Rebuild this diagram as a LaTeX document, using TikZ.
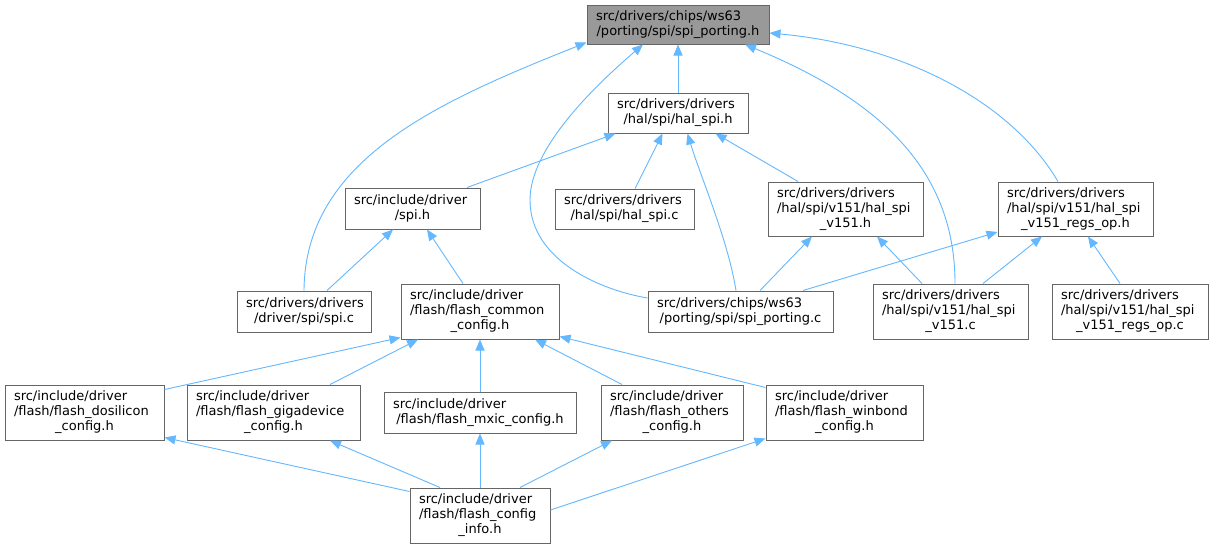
\documentclass[tikz,border=0pt]{standalone}
\usepackage{fontspec}
\setmainfont{DejaVu Sans}
\usetikzlibrary{arrows.meta}
\definecolor{edgec}{HTML}{63B8FF}
\definecolor{bordc}{HTML}{666666}
\definecolor{topc}{HTML}{999999}
\setlength\parindent{0pt}
\newcommand{\lastln}[1]{\makebox[\hsize][c]{#1}}
\begin{document}
\begin{tikzpicture}[x=1pt,y=-1pt,
  box/.style={draw=bordc, line width=1pt, fill=white, inner xsep=9pt, inner ysep=0pt,
    align=left, font=\fontsize{13}{15}\selectfont},
  edge/.style={draw=edgec, line width=0.9pt, {Triangle[length=11pt,width=9pt]}-}]
\fill[white] (0,0) rectangle (1213,549);
\useasboundingbox (0,0) rectangle (1213,549);

% row 0
\node[box, fill=topc, minimum width=182pt, text width=164pt, minimum height=39pt] (top) at (678,24.5)
  {src/drivers/chips/ws63\\\lastln{/porting/spi/spi\_porting.h}};
% row 1
\node[box, minimum width=140pt, text width=122pt, minimum height=40pt] (halspih) at (678,113)
  {src/drivers/drivers\\\lastln{/hal/spi/hal\_spi.h}};
% row 2
\node[box, minimum width=135pt, text width=117pt, minimum height=41pt] (spih) at (412.5,208.5)
  {src/include/driver\\\lastln{/spi.h}};
\node[box, minimum width=139pt, text width=121pt, minimum height=40pt] (halspic) at (624.5,209)
  {src/drivers/drivers\\\lastln{/hal/spi/hal\_spi.c}};
\node[box, minimum width=155pt, text width=137pt, minimum height=54pt] (v151h) at (845.5,209)
  {src/drivers/drivers\\/hal/spi/v151/hal\_spi\\\lastln{\_v151.h}};
\node[box, minimum width=155pt, text width=137pt, minimum height=54pt] (regsoph) at (1075.5,209)
  {src/drivers/drivers\\/hal/spi/v151/hal\_spi\\\lastln{\_v151\_regs\_op.h}};
% row 3
\node[box, minimum width=134pt, text width=116pt, minimum height=41pt] (spic) at (304,311.5)
  {src/drivers/drivers\\\lastln{/driver/spi/spi.c}};
\node[box, minimum width=158pt, text width=140pt, minimum height=55pt] (common) at (480,311.5)
  {src/include/driver\\/flash/flash\_common\\\lastln{\_config.h}};
\node[box, minimum width=185pt, text width=167pt, minimum height=41pt] (spiportc) at (740.5,311.5)
  {src/drivers/chips/ws63\\\lastln{/porting/spi/spi\_porting.c}};
\node[box, minimum width=155pt, text width=137pt, minimum height=55pt] (v151c) at (950.5,311.5)
  {src/drivers/drivers\\/hal/spi/v151/hal\_spi\\\lastln{\_v151.c}};
\node[box, minimum width=156pt, text width=138pt, minimum height=55pt] (regsopc) at (1130,311.5)
  {src/drivers/drivers\\/hal/spi/v151/hal\_spi\\\lastln{\_v151\_regs\_op.c}};
% row 4
\node[box, minimum width=159pt, text width=141pt, minimum height=55pt] (dosilicon) at (84.5,412.5)
  {src/include/driver\\/flash/flash\_dosilicon\\\lastln{\_config.h}};
\node[box, minimum width=173pt, text width=155pt, minimum height=55pt] (giga) at (273.5,412.5)
  {src/include/driver\\/flash/flash\_gigadevice\\\lastln{\_config.h}};
\node[box, minimum width=192pt, text width=174pt, minimum height=41pt] (mxic) at (480,412.5)
  {src/include/driver\\\lastln{/flash/flash\_mxic\_config.h}};
\node[box, minimum width=142pt, text width=124pt, minimum height=55pt] (others) at (672,412.5)
  {src/include/driver\\/flash/flash\_others\\\lastln{\_config.h}};
\node[box, minimum width=157pt, text width=139pt, minimum height=55pt] (winbond) at (844.5,412.5)
  {src/include/driver\\/flash/flash\_winbond\\\lastln{\_config.h}};
% row 5
\node[box, minimum width=140pt, text width=122pt, minimum height=55pt] (info) at (480,515.5)
  {src/include/driver\\/flash/flash\_config\\\lastln{\_info.h}};

% edges (arrow at the included file)
\draw[edge] (top.south) -- (halspih.north);
\draw[edge] ([yshift=2pt]top.south west) .. controls (437,102) and (305,160) .. (spic.north);
\draw[edge] ([xshift=-35pt]top.south) .. controls (590,90) and (530,150) .. (530,200)
  .. controls (530,260) and (600,290) .. ([yshift=13.5pt]spiportc.west);
\draw[edge] ([xshift=67pt]top.south) .. controls (880,100) and (955,170) .. ([xshift=4.5pt]v151c.north);
\draw[edge] ([yshift=-8.5pt]top.east) .. controls (900,45) and (1010,100) .. ([xshift=-17.5pt]regsoph.north);

\draw[edge] ([xshift=-62.5pt]halspih.south) -- ([xshift=54.5pt]spih.north);
\draw[edge] ([xshift=-15.5pt]halspih.south) -- ([xshift=10.5pt]halspic.north);
\draw[edge] ([xshift=9.5pt]halspih.south) .. controls (700,175) and (728,240) .. ([xshift=-4.5pt]spiportc.north);
\draw[edge] ([xshift=37.5pt]halspih.south) -- ([xshift=-47.5pt]v151h.north);

\draw[edge] ([xshift=-19.5pt]spih.south) -- ([xshift=23pt]spic.north);
\draw[edge] ([xshift=14.5pt]spih.south) -- ([xshift=-17pt]common.north);

\draw[edge] ([xshift=-33.5pt]v151h.south) -- ([xshift=19.5pt]spiportc.north);
\draw[edge] ([xshift=31.5pt]v151h.south) -- ([xshift=-28.5pt]v151c.north);

\draw[edge] ([yshift=-23pt]regsoph.west) -- ([xshift=62.5pt]spiportc.north);
\draw[edge] ([xshift=-33.5pt]regsoph.south) -- ([xshift=32.5pt]v151c.north);
\draw[edge] ([xshift=12.5pt]regsoph.south) -- ([xshift=-10pt]regsopc.north);

\draw[edge] ([yshift=2pt]common.south west) -- ([yshift=-5pt]dosilicon.north east);
\draw[edge] ([xshift=-62pt]common.south) -- ([xshift=56.5pt]giga.north);
\draw[edge] (common.south) -- (mxic.north);
\draw[edge] ([xshift=55pt]common.south) -- ([xshift=-50pt]others.north);
\draw[edge] ([yshift=3pt]common.south east) -- ([yshift=-3pt]winbond.north west);

\draw[edge] ([yshift=3pt]dosilicon.south east) -- ([yshift=-4pt]info.north west);
\draw[edge] ([xshift=56.5pt]giga.south) -- ([xshift=-40pt]info.north);
\draw[edge] (mxic.south) -- (info.north);
\draw[edge] ([xshift=-60pt]others.south) -- ([xshift=40pt]info.north);
\draw[edge] ([yshift=2pt]winbond.south west) -- ([yshift=5.5pt]info.east);
\end{tikzpicture}
\end{document}
